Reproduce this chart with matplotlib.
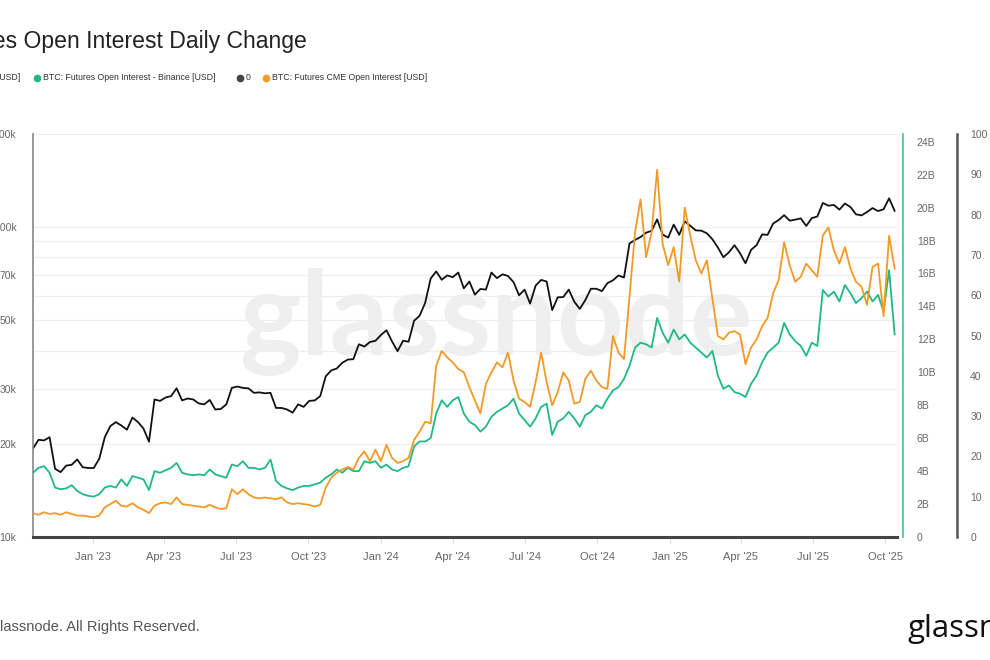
import matplotlib
matplotlib.use("Agg")
import matplotlib.pyplot as plt
from matplotlib.lines import Line2D
import pandas as pd
import numpy as np

plt.rcParams['font.family'] = ['Liberation Sans', 'DejaVu Sans']

# ---------------- data (weekly samples) ----------------
start_date = "2022-10-17"

price_k = [19.3, 20.6, 20.5, 21.0, 16.6, 16.2, 17.0, 17.1, 17.8, 16.8, 16.7,
           16.7, 17.9, 21.0, 22.8, 23.5, 22.9, 22.2, 24.3, 23.5, 22.4, 20.3,
           27.8, 27.5, 28.2, 28.5, 30.2, 27.6, 28.0, 27.8, 27.0, 26.8, 27.7,
           25.8, 25.9, 26.8, 30.3, 30.6, 30.3, 30.2, 29.2, 29.3, 29.1, 29.2,
           26.1, 26.1, 25.8, 25.2, 26.8, 26.3, 27.5, 27.6, 28.5, 33.0, 34.5,
           35.0, 36.5, 37.4, 37.5, 41.9, 41.2, 42.6, 43.0, 44.9, 46.5, 42.8,
           39.8, 43.0, 42.7, 49.9, 51.8, 57.0, 68.3, 72.0, 67.7, 69.9, 69.0,
           71.4, 63.5, 66.8, 60.6, 63.2, 62.9, 71.4, 68.5, 70.5, 69.6, 66.5,
           60.3, 62.9, 56.7, 64.8, 67.6, 66.8, 54.0, 59.4, 59.5, 62.9, 57.5,
           54.5, 58.2, 63.3, 63.3, 62.2, 66.0, 67.4, 69.9, 68.8, 88.7, 91.0,
           93.0, 96.0, 97.4, 106.0, 94.7, 92.6, 102.0, 94.5, 104.5, 101.0,
           97.7, 97.5, 95.6, 91.5, 86.0, 80.0, 83.0, 87.5, 82.5, 76.5, 84.5,
           87.5, 94.8, 94.5, 102.8, 105.5, 109.4, 105.0, 105.8, 106.8, 101.0,
           107.0, 108.3, 119.8, 117.4, 118.0, 114.0, 119.3, 116.2, 110.1,
           109.2, 112.0, 115.3, 112.8, 114.3, 124.0, 113.0]

binance_oi_b = [3.9, 4.2, 4.3, 3.9, 3.0, 2.9, 2.95, 3.15, 2.8, 2.6, 2.5, 2.45,
                2.6, 3.0, 3.1, 3.0, 3.5, 3.1, 3.7, 3.6, 3.5, 2.85, 4.0, 3.9,
                4.05, 4.2, 4.5, 3.9, 3.8, 3.75, 3.8, 3.75, 4.1, 3.8, 3.7, 3.6,
                4.4, 4.3, 4.6, 4.2, 4.2, 4.1, 4.2, 4.7, 3.4, 3.1, 2.95, 2.85,
                3.0, 3.1, 3.1, 3.2, 3.3, 3.6, 3.8, 4.1, 3.9, 4.2, 4.0, 4.0,
                4.6, 4.5, 4.6, 4.2, 4.4, 4.1, 4.0, 4.2, 4.3, 5.5, 5.8, 5.8,
                6.0, 7.5, 8.3, 7.9, 8.3, 8.5, 7.5, 7.0, 6.8, 6.4, 6.7, 7.3,
                7.6, 7.8, 8.0, 8.4, 7.5, 7.1, 6.7, 7.2, 7.9, 8.1, 6.2, 7.0,
                7.2, 7.6, 7.2, 6.7, 7.4, 7.6, 8.0, 7.8, 8.4, 8.9, 9.1, 9.6,
                10.4, 11.5, 11.8, 11.7, 11.5, 13.3, 12.4, 11.8, 12.6, 12.0,
                12.3, 11.8, 11.5, 11.2, 10.9, 11.3, 9.8, 9.0, 9.2, 8.8, 8.7,
                8.5, 9.3, 9.8, 10.6, 11.2, 11.5, 11.8, 13.0, 12.3, 11.9, 11.6,
                11.0, 11.8, 11.6, 15.0, 14.6, 14.9, 14.3, 15.3, 14.8, 14.2,
                14.5, 14.9, 14.3, 14.7, 13.7, 16.2, 12.3]

cme_oi_b = [1.45, 1.35, 1.5, 1.4, 1.45, 1.35, 1.5, 1.4, 1.3, 1.3, 1.25, 1.2,
            1.3, 1.8, 2.0, 2.2, 1.9, 1.85, 2.05, 1.8, 1.65, 1.45, 1.9, 2.05,
            2.1, 2.0, 2.4, 2.0, 1.95, 1.9, 1.85, 1.8, 1.95, 1.8, 1.7, 1.75,
            2.9, 2.6, 2.9, 2.6, 2.4, 2.35, 2.4, 2.35, 2.3, 2.4, 2.1, 2.0,
            2.05, 2.0, 1.95, 1.85, 1.95, 3.0, 3.6, 3.9, 4.1, 4.25, 4.1, 4.8,
            5.2, 4.6, 5.3, 4.6, 5.6, 4.8, 4.5, 4.6, 4.8, 5.9, 6.4, 7.0, 6.9,
            10.4, 11.3, 10.9, 10.6, 10.2, 10.0, 9.1, 8.3, 7.5, 9.3, 10.0,
            10.6, 10.3, 11.2, 9.5, 8.4, 8.2, 7.9, 9.4, 11.2, 9.4, 8.0, 8.8,
            10.0, 9.5, 8.1, 8.2, 9.6, 10.1, 9.5, 9.1, 9.0, 12.2, 11.2, 10.8,
            14.6, 18.5, 20.5, 17.0, 18.5, 22.3, 17.8, 16.5, 17.6, 15.5, 20.0,
            18.3, 16.8, 16.0, 16.8, 14.5, 12.2, 12.0, 12.4, 12.5, 12.3, 10.5,
            11.5, 12.0, 12.8, 13.3, 14.8, 15.6, 17.9, 16.5, 15.5, 15.8, 16.6,
            16.2, 15.8, 18.3, 18.8, 17.4, 16.6, 17.6, 16.3, 15.5, 15.2, 14.1,
            16.4, 16.6, 13.4, 18.3, 16.3]

price_ticks = [10000, 20000, 30000, 50000, 70000, 100000, 200000]
price_tick_labels = ["10k", "20k", "30k", "50k", "70k", "100k", "200k"]
oi_ticks = list(range(0, 25, 2))
oi_tick_labels = ["0"] + [f"{v}B" for v in oi_ticks[1:]]
third_ticks = list(range(0, 101, 10))
x_tick_dates = ["2023-01-01", "2023-04-01", "2023-07-01", "2023-10-01",
                "2024-01-01", "2024-04-01", "2024-07-01", "2024-10-01",
                "2025-01-01", "2025-04-01", "2025-07-01", "2025-10-01"]
x_tick_labels = ["Jan '23", "Apr '23", "Jul '23", "Oct '23", "Jan '24",
                 "Apr '24", "Jul '24", "Oct '24", "Jan '25", "Apr '25",
                 "Jul '25", "Oct '25"]

dates = pd.date_range(start_date, periods=len(price_k), freq="7D")
price = np.array(price_k) * 1000

# ---------------- styling ----------------
C_BLACK = "#111111"
C_GREEN = "#1fb886"
C_ORANGE = "#f29a26"
C_TICK = "#666666"

W, H = 990, 660
fig = plt.figure(figsize=(9.9, 6.6), dpi=100)
ax = fig.add_axes([33 / W, 1 - 537 / H, (897 - 33) / W, (537 - 134) / H])

# watermark
ax.text(496 / W, 1 - 355 / H, "glassnode", transform=fig.transFigure,
        ha="center", va="baseline", fontsize=84, family="Lato",
        fontweight="bold", color="#efefef", zorder=0.2)

ax.plot(dates, price, color=C_BLACK, lw=1.3, zorder=2)
ax.set_yscale("log")
ax.set_ylim(10000, 200000)
ax.set_xlim(pd.Timestamp("2022-10-17"), pd.Timestamp("2025-10-16"))
ax.set_yticks(price_ticks)
ax.set_yticklabels(price_tick_labels)
ax.set_yticks([40000, 60000, 80000, 90000], minor=True)
ax.yaxis.set_minor_formatter(matplotlib.ticker.NullFormatter())
ax.tick_params(axis="y", which="both", length=0, pad=12, labelsize=7.5,
               labelcolor=C_TICK)
ax.grid(True, axis="y", which="both", color="#eeeeee", lw=0.9)
ax.set_axisbelow(True)
ax.set_xticks([pd.Timestamp(d) for d in x_tick_dates])
ax.set_xticklabels(x_tick_labels)
ax.tick_params(axis="x", length=4, color="#dddddd", pad=7, labelsize=8,
               labelcolor=C_TICK)
for s in ["top", "right"]:
    ax.spines[s].set_visible(False)
ax.spines["left"].set_color("#888888")
ax.spines["left"].set_linewidth(1.2)
ax.spines["bottom"].set_color("#444444")
ax.spines["bottom"].set_linewidth(2.2)

ax2 = ax.twinx()
ax2.plot(dates, binance_oi_b, color=C_GREEN, lw=1.3, zorder=2)
ax2.plot(dates, cme_oi_b, color=C_ORANGE, lw=1.3, zorder=3)
ax2.set_ylim(0, 24.47)
ax2.set_yticks(oi_ticks)
ax2.set_yticklabels(oi_tick_labels)
ax2.tick_params(axis="y", length=0, pad=10, labelsize=7.5, labelcolor=C_TICK)
for s in ["top", "left", "bottom"]:
    ax2.spines[s].set_visible(False)
ax2.spines["right"].set_position(("outward", 6 * 0.72))
ax2.spines["right"].set_color("#3cc79e")
ax2.spines["right"].set_linewidth(1.2)

ax3 = ax.twinx()
ax3.set_ylim(0, 100)
ax3.set_yticks(third_ticks)
ax3.tick_params(axis="y", length=0, pad=9.5, labelsize=7.5, labelcolor=C_TICK)
for s in ["top", "left", "bottom"]:
    ax3.spines[s].set_visible(False)
ax3.spines["right"].set_position(("outward", 60 * 0.72))
ax3.spines["right"].set_color("#555555")
ax3.spines["right"].set_linewidth(1.8)

# title
fig.text(307 / W, 1 - 48 / H, "Futures Open Interest Daily Change",
         ha="right", va="baseline", fontsize=16.6, color="#222222")

# legend row
ly = 1 - 78 / H
lfs = 6.3
fig.text(20 / W, ly, "BTC: Price [USD]", ha="right", va="center",
         fontsize=lfs, color="#333333")
legend_items = [(37, C_GREEN, "BTC: Futures Open Interest - Binance [USD]"),
                (240, "#444444", "0"),
                (266, C_ORANGE, "BTC: Futures CME Open Interest [USD]")]
for x0, col, lab in legend_items:
    fig.add_artist(Line2D([x0 / W], [ly], marker="o", ms=4.5, color=col,
                          transform=fig.transFigure))
    fig.text((x0 + 6) / W, ly, lab, ha="left", va="center", fontsize=lfs,
             color="#333333")

# footer
fig.text(200 / W, 1 - 631 / H, "\u00a9 2025 Glassnode. All Rights Reserved.",
         ha="right", va="baseline", fontsize=10.5, color="#555555")
fig.text(908 / W, 1 - 637 / H, "glassnode", ha="left", va="baseline",
         fontsize=22.5, family="Open Sans", color="#111111")

fig.savefig("out.png", dpi=100)
